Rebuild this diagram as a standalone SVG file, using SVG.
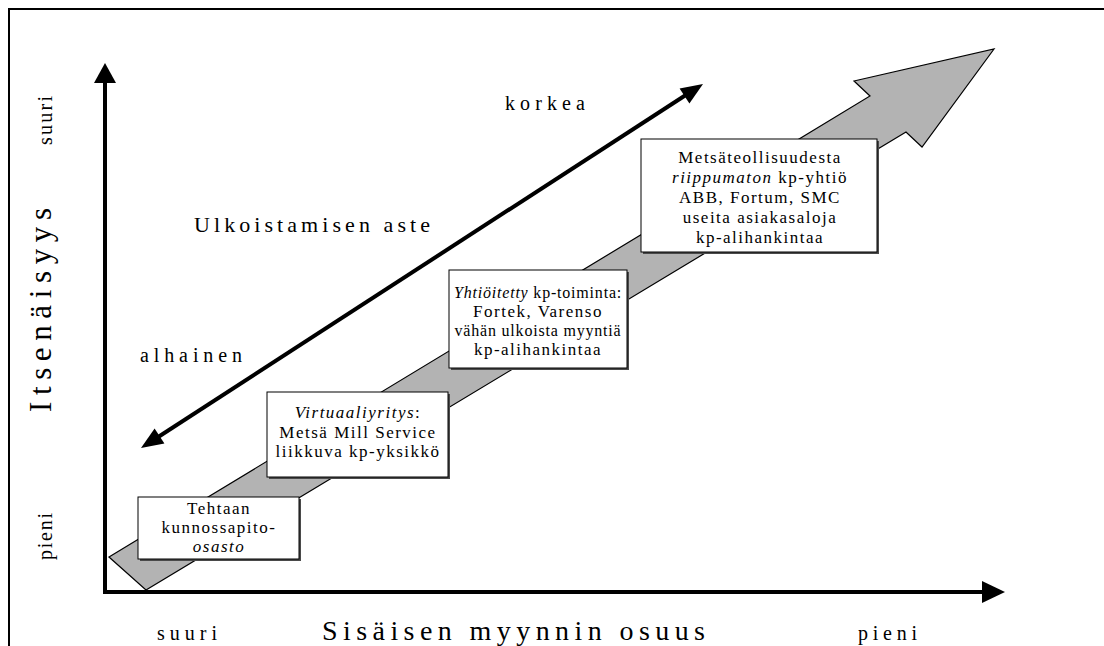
<svg xmlns="http://www.w3.org/2000/svg" width="1104" height="646" viewBox="0 0 1104 646">
<style>
text{font-family:"Liberation Serif","Times New Roman",serif;fill:#000}
.bx{font-size:17px;letter-spacing:1.5px;text-anchor:middle}
.bxs{font-size:16px;letter-spacing:0.8px}
.it{font-style:italic}
.lab{font-size:20px;letter-spacing:3px}
.box{fill:#fff;stroke:#000;stroke-width:1}
.shd{fill:#4a4a4a}
</style>
<rect width="1104" height="646" fill="#fff"/>
<path d="M9,646 V9 H1104" fill="none" stroke="#000" stroke-width="2"/>

<g id="axes">
  <line x1="105" y1="594" x2="105" y2="80" stroke="#000" stroke-width="4"/>
  <polygon points="105,63 94,83 116,83" fill="#000"/>
  <line x1="103" y1="592" x2="984" y2="592" stroke="#000" stroke-width="4"/>
  <polygon points="1005,592 982,581 982,603" fill="#000"/>
</g>

<g id="big-arrow">
  <polygon points="109,557 870,96 854,81 994,49 922,147 906,132 146,590" fill="#b3b3b3" stroke="#000" stroke-width="1.2" stroke-linejoin="miter"/>
</g>

<g id="connectors">
  <line x1="157" y1="437.7" x2="687" y2="94.3" stroke="#000" stroke-width="4"/>
  <polygon points="141,448 164.4,443.6 154.6,428.5" fill="#000"/>
  <polygon points="703,84 689.4,103.6 679.6,88.5" fill="#000"/>
</g>

<g id="box1">
  <rect class="shd" x="140" y="499" width="161" height="62"/>
  <rect class="box" x="138" y="497" width="161" height="62"/>
  <text class="bx" x="219" y="514">Tehtaan</text>
  <text class="bx" x="219" y="533">kunnossapito-</text>
  <text class="bx it" x="219" y="552">osasto</text>
</g>

<g id="box2">
  <rect class="shd" x="269" y="394" width="181" height="85"/>
  <rect class="box" x="267" y="392" width="181" height="85"/>
  <text class="bx" x="358" y="418"><tspan class="it">Virtuaaliyritys</tspan>:</text>
  <text class="bx" x="358" y="438">Metsä Mill Service</text>
  <text class="bx" x="358" y="457">liikkuva kp-yksikkö</text>
</g>

<g id="box3">
  <rect class="shd" x="451" y="272" width="178" height="98"/>
  <rect class="box" x="449" y="270" width="178" height="98"/>
  <text class="bx bxs" x="538" y="298"><tspan class="it">Yhtiöitetty</tspan> kp-toiminta:</text>
  <text class="bx" x="538" y="317">Fortek, Varenso</text>
  <text class="bx bxs" x="538" y="336">vähän ulkoista myyntiä</text>
  <text class="bx" x="538" y="355">kp-alihankintaa</text>
</g>

<g id="box4">
  <rect class="shd" x="643" y="141" width="236" height="113"/>
  <rect class="box" x="641" y="139" width="236" height="113"/>
  <text class="bx" x="760" y="163">Metsäteollisuudesta</text>
  <text class="bx" x="760" y="183"><tspan class="it">riippumaton</tspan> kp-yhtiö</text>
  <text class="bx" x="760" y="203">ABB, Fortum, SMC</text>
  <text class="bx" x="760" y="223">useita asiakasaloja</text>
  <text class="bx" x="760" y="243">kp-alihankintaa</text>
</g>

<g id="labels">
  <text class="lab" x="505" y="110" textLength="83" lengthAdjust="spacing">korkea</text>
  <text class="lab" x="194" y="232" style="font-size:22px" textLength="239" lengthAdjust="spacing">Ulkoistamisen aste</text>
  <text class="lab" x="140" y="362" textLength="105" lengthAdjust="spacing">alhainen</text>
  <text class="lab" x="322" y="640" style="font-size:28px" textLength="386" lengthAdjust="spacing">Sisäisen myynnin osuus</text>
  <text class="lab" x="157" y="640" textLength="63" lengthAdjust="spacing">suuri</text>
  <text class="lab" x="858" y="640" textLength="62" lengthAdjust="spacing">pieni</text>
  <text class="lab" transform="translate(52,145) rotate(-90)" x="0" y="0" textLength="52" lengthAdjust="spacing">suuri</text>
  <text class="lab" transform="translate(52,560) rotate(-90)" x="0" y="0" textLength="50" lengthAdjust="spacing">pieni</text>
  <text class="lab" transform="translate(51,412) rotate(-90)" x="0" y="0" style="font-size:31px" textLength="207" lengthAdjust="spacing">Itsenäisyys</text>
</g>
</svg>
